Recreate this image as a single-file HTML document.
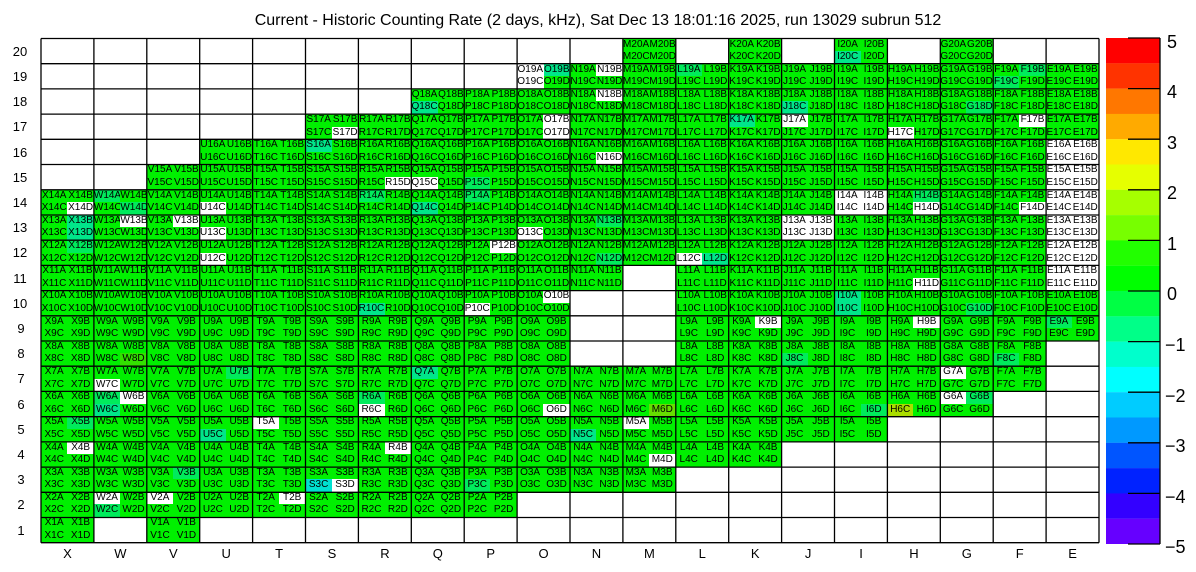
<!DOCTYPE html>
<html><head><meta charset="utf-8"><style>
body{margin:0;width:1196px;height:572px;background:#fff;position:relative;overflow:hidden;font-family:"Liberation Sans",Arial,sans-serif}
#g{position:absolute;left:41px;top:38.5px;width:1058px;height:504.2px}
.r{display:flex;height:12.605px}
.r i,.r b{flex:0 0 26.45px;width:26.45px;height:12.605px;font-style:normal;font-weight:normal;font-size:10px;line-height:12.8px;text-align:center;white-space:nowrap;color:#000;overflow:visible}
.r i{background:#00f000}
.r b{background:transparent}
.r i.w{background:#fff}.r i.t{background:#00e68a}.r i.l{background:#00eb5c}.r i.c{background:#00e0d0}.r i.y{background:#66dd00}.r i.z{background:#aadd00}.r i.v{background:#33e000}
s{display:block;flex:0 0 auto;height:12.605px}
.s1{width:52.9px}.s2{width:105.8px}.s3{width:158.7px}.s5{width:264.5px}.s7{width:370.3px}.s9{width:476.1px}.s11{width:581.9px}
svg{position:absolute;left:0;top:0}
</style></head><body>
<div id="g">
<div class="r"><s class="s11"></s><i>M20A</i><i>M20B</i><s class="s1"></s><i>K20A</i><i>K20B</i><s class="s1"></s><i>I20A</i><i>I20B</i><s class="s1"></s><i>G20A</i><i>G20B</i></div>
<div class="r"><s class="s11"></s><i>M20C</i><i>M20D</i><s class="s1"></s><i>K20C</i><i>K20D</i><s class="s1"></s><i class="t">I20C</i><i>I20D</i><s class="s1"></s><i>G20C</i><i>G20D</i></div>
<div class="r"><s class="s9"></s><i class="w">O19A</i><i class="t">O19B</i><i>N19A</i><i class="w">N19B</i><i>M19A</i><i>M19B</i><i class="l">L19A</i><i>L19B</i><i>K19A</i><i>K19B</i><i>J19A</i><i>J19B</i><i>I19A</i><i>I19B</i><i>H19A</i><i>H19B</i><i>G19A</i><i>G19B</i><i>F19A</i><i class="l">F19B</i><i>E19A</i><i>E19B</i></div>
<div class="r"><s class="s9"></s><i class="w">O19C</i><i>O19D</i><i>N19C</i><i>N19D</i><i>M19C</i><i>M19D</i><i>L19C</i><i>L19D</i><i>K19C</i><i>K19D</i><i>J19C</i><i>J19D</i><i>I19C</i><i>I19D</i><i>H19C</i><i>H19D</i><i>G19C</i><i>G19D</i><i class="l">F19C</i><i>F19D</i><i>E19C</i><i>E19D</i></div>
<div class="r"><s class="s7"></s><i>Q18A</i><i>Q18B</i><i>P18A</i><i>P18B</i><i>O18A</i><i>O18B</i><i>N18A</i><i class="w">N18B</i><i>M18A</i><i>M18B</i><i>L18A</i><i>L18B</i><i>K18A</i><i>K18B</i><i>J18A</i><i>J18B</i><i>I18A</i><i>I18B</i><i>H18A</i><i>H18B</i><i>G18A</i><i>G18B</i><i>F18A</i><i>F18B</i><i>E18A</i><i>E18B</i></div>
<div class="r"><s class="s7"></s><i class="t">Q18C</i><i>Q18D</i><i>P18C</i><i>P18D</i><i>O18C</i><i>O18D</i><i>N18C</i><i>N18D</i><i>M18C</i><i>M18D</i><i>L18C</i><i>L18D</i><i>K18C</i><i>K18D</i><i class="t">J18C</i><i>J18D</i><i>I18C</i><i>I18D</i><i>H18C</i><i>H18D</i><i>G18C</i><i class="l">G18D</i><i>F18C</i><i>F18D</i><i>E18C</i><i>E18D</i></div>
<div class="r"><s class="s5"></s><i>S17A</i><i>S17B</i><i>R17A</i><i>R17B</i><i>Q17A</i><i>Q17B</i><i>P17A</i><i>P17B</i><i>O17A</i><i class="w">O17B</i><i>N17A</i><i>N17B</i><i>M17A</i><i>M17B</i><i>L17A</i><i>L17B</i><i class="t">K17A</i><i>K17B</i><i class="w">J17A</i><i>J17B</i><i>I17A</i><i>I17B</i><i>H17A</i><i>H17B</i><i>G17A</i><i>G17B</i><i>F17A</i><i class="w">F17B</i><i>E17A</i><i>E17B</i></div>
<div class="r"><s class="s5"></s><i>S17C</i><i class="w">S17D</i><i>R17C</i><i>R17D</i><i>Q17C</i><i>Q17D</i><i>P17C</i><i>P17D</i><i>O17C</i><i class="w">O17D</i><i>N17C</i><i>N17D</i><i>M17C</i><i>M17D</i><i>L17C</i><i>L17D</i><i>K17C</i><i>K17D</i><i>J17C</i><i>J17D</i><i>I17C</i><i>I17D</i><i class="w">H17C</i><i>H17D</i><i>G17C</i><i>G17D</i><i>F17C</i><i>F17D</i><i>E17C</i><i>E17D</i></div>
<div class="r"><s class="s3"></s><i>U16A</i><i>U16B</i><i>T16A</i><i>T16B</i><i class="t">S16A</i><i>S16B</i><i>R16A</i><i>R16B</i><i>Q16A</i><i>Q16B</i><i>P16A</i><i>P16B</i><i>O16A</i><i>O16B</i><i>N16A</i><i>N16B</i><i>M16A</i><i>M16B</i><i>L16A</i><i>L16B</i><i>K16A</i><i>K16B</i><i>J16A</i><i>J16B</i><i>I16A</i><i>I16B</i><i>H16A</i><i>H16B</i><i>G16A</i><i>G16B</i><i>F16A</i><i>F16B</i><i class="w">E16A</i><i class="w">E16B</i></div>
<div class="r"><s class="s3"></s><i>U16C</i><i>U16D</i><i>T16C</i><i>T16D</i><i>S16C</i><i>S16D</i><i>R16C</i><i>R16D</i><i>Q16C</i><i>Q16D</i><i>P16C</i><i>P16D</i><i>O16C</i><i>O16D</i><i>N16C</i><i class="w">N16D</i><i>M16C</i><i>M16D</i><i>L16C</i><i>L16D</i><i>K16C</i><i>K16D</i><i>J16C</i><i>J16D</i><i>I16C</i><i>I16D</i><i>H16C</i><i>H16D</i><i>G16C</i><i>G16D</i><i>F16C</i><i>F16D</i><i class="w">E16C</i><i class="w">E16D</i></div>
<div class="r"><s class="s2"></s><i>V15A</i><i>V15B</i><i>U15A</i><i>U15B</i><i>T15A</i><i>T15B</i><i>S15A</i><i>S15B</i><i>R15A</i><i>R15B</i><i>Q15A</i><i>Q15B</i><i>P15A</i><i>P15B</i><i>O15A</i><i>O15B</i><i>N15A</i><i>N15B</i><i>M15A</i><i>M15B</i><i>L15A</i><i>L15B</i><i>K15A</i><i>K15B</i><i>J15A</i><i>J15B</i><i>I15A</i><i>I15B</i><i>H15A</i><i>H15B</i><i>G15A</i><i>G15B</i><i>F15A</i><i>F15B</i><i class="w">E15A</i><i class="w">E15B</i></div>
<div class="r"><s class="s2"></s><i>V15C</i><i>V15D</i><i>U15C</i><i>U15D</i><i>T15C</i><i>T15D</i><i>S15C</i><i>S15D</i><i>R15C</i><i class="w">R15D</i><i class="w">Q15C</i><i>Q15D</i><i class="l">P15C</i><i>P15D</i><i>O15C</i><i>O15D</i><i>N15C</i><i>N15D</i><i>M15C</i><i>M15D</i><i>L15C</i><i>L15D</i><i>K15C</i><i>K15D</i><i>J15C</i><i>J15D</i><i>I15C</i><i>I15D</i><i>H15C</i><i>H15D</i><i>G15C</i><i>G15D</i><i>F15C</i><i>F15D</i><i class="w">E15C</i><i class="w">E15D</i></div>
<div class="r"><i>X14A</i><i>X14B</i><i class="l">W14A</i><i>W14B</i><i>V14A</i><i>V14B</i><i>U14A</i><i>U14B</i><i>T14A</i><i>T14B</i><i>S14A</i><i>S14B</i><i class="l">R14A</i><i>R14B</i><i>Q14A</i><i>Q14B</i><i class="l">P14A</i><i>P14B</i><i>O14A</i><i>O14B</i><i>N14A</i><i>N14B</i><i>M14A</i><i>M14B</i><i>L14A</i><i>L14B</i><i>K14A</i><i>K14B</i><i>J14A</i><i>J14B</i><i class="w">I14A</i><i class="w">I14B</i><i>H14A</i><i class="l">H14B</i><i>G14A</i><i>G14B</i><i>F14A</i><i>F14B</i><i class="w">E14A</i><i class="w">E14B</i></div>
<div class="r"><i>X14C</i><i class="w">X14D</i><i>W14C</i><i class="l">W14D</i><i>V14C</i><i>V14D</i><i class="w">U14C</i><i>U14D</i><i>T14C</i><i>T14D</i><i>S14C</i><i>S14D</i><i>R14C</i><i>R14D</i><i class="t">Q14C</i><i>Q14D</i><i>P14C</i><i>P14D</i><i>O14C</i><i>O14D</i><i>N14C</i><i>N14D</i><i>M14C</i><i>M14D</i><i>L14C</i><i>L14D</i><i>K14C</i><i>K14D</i><i>J14C</i><i>J14D</i><i class="w">I14C</i><i class="w">I14D</i><i>H14C</i><i class="w">H14D</i><i>G14C</i><i>G14D</i><i>F14C</i><i class="w">F14D</i><i class="w">E14C</i><i class="w">E14D</i></div>
<div class="r"><i>X13A</i><i class="t">X13B</i><i>W13A</i><i class="w">W13B</i><i>V13A</i><i class="w">V13B</i><i>U13A</i><i>U13B</i><i>T13A</i><i>T13B</i><i>S13A</i><i>S13B</i><i>R13A</i><i>R13B</i><i>Q13A</i><i>Q13B</i><i>P13A</i><i>P13B</i><i>O13A</i><i>O13B</i><i>N13A</i><i class="l">N13B</i><i>M13A</i><i>M13B</i><i>L13A</i><i>L13B</i><i>K13A</i><i>K13B</i><i class="w">J13A</i><i class="w">J13B</i><i>I13A</i><i>I13B</i><i>H13A</i><i>H13B</i><i>G13A</i><i>G13B</i><i>F13A</i><i>F13B</i><i class="w">E13A</i><i class="w">E13B</i></div>
<div class="r"><i>X13C</i><i class="t">X13D</i><i>W13C</i><i>W13D</i><i>V13C</i><i>V13D</i><i class="w">U13C</i><i>U13D</i><i>T13C</i><i>T13D</i><i>S13C</i><i>S13D</i><i>R13C</i><i>R13D</i><i>Q13C</i><i>Q13D</i><i>P13C</i><i>P13D</i><i class="w">O13C</i><i>O13D</i><i>N13C</i><i>N13D</i><i>M13C</i><i>M13D</i><i>L13C</i><i>L13D</i><i>K13C</i><i>K13D</i><i class="w">J13C</i><i class="w">J13D</i><i>I13C</i><i>I13D</i><i>H13C</i><i>H13D</i><i>G13C</i><i>G13D</i><i>F13C</i><i>F13D</i><i class="w">E13C</i><i class="w">E13D</i></div>
<div class="r"><i>X12A</i><i class="l">X12B</i><i>W12A</i><i>W12B</i><i>V12A</i><i>V12B</i><i>U12A</i><i>U12B</i><i>T12A</i><i>T12B</i><i>S12A</i><i>S12B</i><i>R12A</i><i>R12B</i><i>Q12A</i><i>Q12B</i><i>P12A</i><i class="w">P12B</i><i>O12A</i><i>O12B</i><i>N12A</i><i>N12B</i><i>M12A</i><i>M12B</i><i>L12A</i><i>L12B</i><i>K12A</i><i>K12B</i><i>J12A</i><i>J12B</i><i>I12A</i><i>I12B</i><i>H12A</i><i>H12B</i><i>G12A</i><i>G12B</i><i>F12A</i><i>F12B</i><i class="w">E12A</i><i class="w">E12B</i></div>
<div class="r"><i>X12C</i><i>X12D</i><i>W12C</i><i>W12D</i><i>V12C</i><i>V12D</i><i class="w">U12C</i><i>U12D</i><i>T12C</i><i>T12D</i><i>S12C</i><i>S12D</i><i>R12C</i><i>R12D</i><i>Q12C</i><i>Q12D</i><i>P12C</i><i>P12D</i><i>O12C</i><i>O12D</i><i>N12C</i><i class="l">N12D</i><i>M12C</i><i>M12D</i><i class="w">L12C</i><i class="t">L12D</i><i>K12C</i><i>K12D</i><i>J12C</i><i>J12D</i><i>I12C</i><i>I12D</i><i>H12C</i><i>H12D</i><i>G12C</i><i>G12D</i><i>F12C</i><i>F12D</i><i class="w">E12C</i><i class="w">E12D</i></div>
<div class="r"><i>X11A</i><i>X11B</i><i>W11A</i><i>W11B</i><i>V11A</i><i>V11B</i><i>U11A</i><i>U11B</i><i>T11A</i><i>T11B</i><i>S11A</i><i>S11B</i><i>R11A</i><i>R11B</i><i>Q11A</i><i>Q11B</i><i>P11A</i><i>P11B</i><i>O11A</i><i>O11B</i><i>N11A</i><i>N11B</i><s class="s1"></s><i>L11A</i><i>L11B</i><i>K11A</i><i>K11B</i><i>J11A</i><i>J11B</i><i>I11A</i><i>I11B</i><i>H11A</i><i>H11B</i><i>G11A</i><i>G11B</i><i>F11A</i><i>F11B</i><i class="w">E11A</i><i class="w">E11B</i></div>
<div class="r"><i>X11C</i><i>X11D</i><i>W11C</i><i>W11D</i><i>V11C</i><i>V11D</i><i>U11C</i><i>U11D</i><i>T11C</i><i>T11D</i><i>S11C</i><i>S11D</i><i>R11C</i><i>R11D</i><i>Q11C</i><i>Q11D</i><i>P11C</i><i>P11D</i><i>O11C</i><i>O11D</i><i>N11C</i><i>N11D</i><s class="s1"></s><i>L11C</i><i>L11D</i><i>K11C</i><i>K11D</i><i>J11C</i><i>J11D</i><i>I11C</i><i>I11D</i><i>H11C</i><i class="w">H11D</i><i>G11C</i><i>G11D</i><i>F11C</i><i>F11D</i><i class="w">E11C</i><i class="w">E11D</i></div>
<div class="r"><i>X10A</i><i>X10B</i><i>W10A</i><i>W10B</i><i>V10A</i><i>V10B</i><i>U10A</i><i>U10B</i><i>T10A</i><i>T10B</i><i>S10A</i><i>S10B</i><i>R10A</i><i>R10B</i><i>Q10A</i><i>Q10B</i><i>P10A</i><i>P10B</i><i>O10A</i><i class="w">O10B</i><s class="s2"></s><i>L10A</i><i>L10B</i><i>K10A</i><i>K10B</i><i>J10A</i><i>J10B</i><i class="t">I10A</i><i>I10B</i><i>H10A</i><i>H10B</i><i>G10A</i><i>G10B</i><i>F10A</i><i>F10B</i><i>E10A</i><i>E10B</i></div>
<div class="r"><i>X10C</i><i>X10D</i><i>W10C</i><i>W10D</i><i>V10C</i><i>V10D</i><i>U10C</i><i>U10D</i><i>T10C</i><i>T10D</i><i>S10C</i><i>S10D</i><i class="t">R10C</i><i>R10D</i><i>Q10C</i><i>Q10D</i><i class="w">P10C</i><i>P10D</i><i>O10C</i><i>O10D</i><s class="s2"></s><i>L10C</i><i>L10D</i><i>K10C</i><i>K10D</i><i>J10C</i><i>J10D</i><i class="t">I10C</i><i>I10D</i><i>H10C</i><i>H10D</i><i>G10C</i><i class="l">G10D</i><i>F10C</i><i>F10D</i><i>E10C</i><i>E10D</i></div>
<div class="r"><i>X9A</i><i>X9B</i><i>W9A</i><i>W9B</i><i>V9A</i><i>V9B</i><i>U9A</i><i>U9B</i><i>T9A</i><i>T9B</i><i>S9A</i><i>S9B</i><i>R9A</i><i>R9B</i><i>Q9A</i><i>Q9B</i><i>P9A</i><i>P9B</i><i>O9A</i><i>O9B</i><s class="s2"></s><i>L9A</i><i>L9B</i><i>K9A</i><i class="w">K9B</i><i>J9A</i><i>J9B</i><i>I9A</i><i>I9B</i><i>H9A</i><i class="w">H9B</i><i>G9A</i><i>G9B</i><i>F9A</i><i>F9B</i><i class="l">E9A</i><i>E9B</i></div>
<div class="r"><i>X9C</i><i>X9D</i><i>W9C</i><i>W9D</i><i>V9C</i><i>V9D</i><i>U9C</i><i>U9D</i><i>T9C</i><i>T9D</i><i>S9C</i><i>S9D</i><i>R9C</i><i>R9D</i><i>Q9C</i><i>Q9D</i><i>P9C</i><i>P9D</i><i>O9C</i><i>O9D</i><s class="s2"></s><i>L9C</i><i>L9D</i><i>K9C</i><i>K9D</i><i>J9C</i><i>J9D</i><i>I9C</i><i>I9D</i><i>H9C</i><i>H9D</i><i>G9C</i><i>G9D</i><i>F9C</i><i>F9D</i><i>E9C</i><i>E9D</i></div>
<div class="r"><i>X8A</i><i>X8B</i><i>W8A</i><i>W8B</i><i>V8A</i><i>V8B</i><i>U8A</i><i>U8B</i><i>T8A</i><i>T8B</i><i>S8A</i><i>S8B</i><i>R8A</i><i>R8B</i><i>Q8A</i><i>Q8B</i><i>P8A</i><i>P8B</i><i>O8A</i><i>O8B</i><s class="s2"></s><i>L8A</i><i>L8B</i><i>K8A</i><i>K8B</i><i>J8A</i><i>J8B</i><i>I8A</i><i>I8B</i><i>H8A</i><i>H8B</i><i>G8A</i><i>G8B</i><i>F8A</i><i>F8B</i></div>
<div class="r"><i>X8C</i><i>X8D</i><i>W8C</i><i class="v">W8D</i><i>V8C</i><i>V8D</i><i>U8C</i><i>U8D</i><i>T8C</i><i>T8D</i><i>S8C</i><i>S8D</i><i>R8C</i><i>R8D</i><i>Q8C</i><i>Q8D</i><i>P8C</i><i>P8D</i><i>O8C</i><i>O8D</i><s class="s2"></s><i>L8C</i><i>L8D</i><i>K8C</i><i>K8D</i><i class="l">J8C</i><i>J8D</i><i>I8C</i><i>I8D</i><i>H8C</i><i>H8D</i><i>G8C</i><i>G8D</i><i class="l">F8C</i><i>F8D</i></div>
<div class="r"><i>X7A</i><i>X7B</i><i>W7A</i><i>W7B</i><i>V7A</i><i>V7B</i><i>U7A</i><i class="l">U7B</i><i>T7A</i><i>T7B</i><i>S7A</i><i>S7B</i><i>R7A</i><i>R7B</i><i class="t">Q7A</i><i>Q7B</i><i>P7A</i><i>P7B</i><i>O7A</i><i>O7B</i><i>N7A</i><i>N7B</i><i>M7A</i><i>M7B</i><i>L7A</i><i>L7B</i><i>K7A</i><i>K7B</i><i>J7A</i><i>J7B</i><i>I7A</i><i>I7B</i><i>H7A</i><i>H7B</i><i class="w">G7A</i><i>G7B</i><i>F7A</i><i>F7B</i></div>
<div class="r"><i>X7C</i><i>X7D</i><i class="w">W7C</i><i>W7D</i><i>V7C</i><i>V7D</i><i>U7C</i><i>U7D</i><i>T7C</i><i>T7D</i><i>S7C</i><i>S7D</i><i>R7C</i><i>R7D</i><i>Q7C</i><i>Q7D</i><i>P7C</i><i>P7D</i><i>O7C</i><i>O7D</i><i>N7C</i><i>N7D</i><i>M7C</i><i>M7D</i><i>L7C</i><i>L7D</i><i>K7C</i><i>K7D</i><i>J7C</i><i>J7D</i><i>I7C</i><i>I7D</i><i>H7C</i><i>H7D</i><i>G7C</i><i>G7D</i><i>F7C</i><i>F7D</i></div>
<div class="r"><i>X6A</i><i>X6B</i><i class="l">W6A</i><i class="w">W6B</i><i>V6A</i><i>V6B</i><i>U6A</i><i>U6B</i><i>T6A</i><i>T6B</i><i>S6A</i><i>S6B</i><i class="l">R6A</i><i>R6B</i><i>Q6A</i><i>Q6B</i><i>P6A</i><i>P6B</i><i>O6A</i><i>O6B</i><i>N6A</i><i>N6B</i><i>M6A</i><i>M6B</i><i>L6A</i><i>L6B</i><i>K6A</i><i>K6B</i><i>J6A</i><i>J6B</i><i>I6A</i><i>I6B</i><i>H6A</i><i>H6B</i><i class="w">G6A</i><i class="l">G6B</i></div>
<div class="r"><i>X6C</i><i>X6D</i><i class="t">W6C</i><i>W6D</i><i>V6C</i><i>V6D</i><i>U6C</i><i>U6D</i><i>T6C</i><i>T6D</i><i>S6C</i><i>S6D</i><i class="w">R6C</i><i>R6D</i><i>Q6C</i><i>Q6D</i><i>P6C</i><i>P6D</i><i>O6C</i><i class="w">O6D</i><i>N6C</i><i>N6D</i><i>M6C</i><i class="y">M6D</i><i>L6C</i><i>L6D</i><i>K6C</i><i>K6D</i><i>J6C</i><i>J6D</i><i>I6C</i><i class="l">I6D</i><i class="z">H6C</i><i>H6D</i><i>G6C</i><i>G6D</i></div>
<div class="r"><i>X5A</i><i class="l">X5B</i><i>W5A</i><i>W5B</i><i>V5A</i><i>V5B</i><i>U5A</i><i>U5B</i><i class="w">T5A</i><i>T5B</i><i>S5A</i><i>S5B</i><i>R5A</i><i>R5B</i><i>Q5A</i><i>Q5B</i><i>P5A</i><i>P5B</i><i>O5A</i><i>O5B</i><i>N5A</i><i>N5B</i><i class="w">M5A</i><i>M5B</i><i>L5A</i><i>L5B</i><i>K5A</i><i>K5B</i><i>J5A</i><i>J5B</i><i>I5A</i><i>I5B</i></div>
<div class="r"><i>X5C</i><i>X5D</i><i>W5C</i><i>W5D</i><i>V5C</i><i>V5D</i><i class="t">U5C</i><i>U5D</i><i>T5C</i><i>T5D</i><i>S5C</i><i>S5D</i><i>R5C</i><i>R5D</i><i>Q5C</i><i>Q5D</i><i>P5C</i><i>P5D</i><i>O5C</i><i>O5D</i><i class="t">N5C</i><i>N5D</i><i>M5C</i><i>M5D</i><i>L5C</i><i>L5D</i><i>K5C</i><i>K5D</i><i>J5C</i><i>J5D</i><i>I5C</i><i>I5D</i></div>
<div class="r"><i>X4A</i><i class="w">X4B</i><i>W4A</i><i>W4B</i><i>V4A</i><i>V4B</i><i>U4A</i><i>U4B</i><i>T4A</i><i>T4B</i><i>S4A</i><i>S4B</i><i>R4A</i><i class="w">R4B</i><i>Q4A</i><i>Q4B</i><i>P4A</i><i>P4B</i><i>O4A</i><i>O4B</i><i>N4A</i><i>N4B</i><i>M4A</i><i>M4B</i><i>L4A</i><i>L4B</i><i>K4A</i><i>K4B</i></div>
<div class="r"><i>X4C</i><i>X4D</i><i>W4C</i><i>W4D</i><i>V4C</i><i>V4D</i><i>U4C</i><i>U4D</i><i>T4C</i><i>T4D</i><i>S4C</i><i>S4D</i><i>R4C</i><i>R4D</i><i>Q4C</i><i>Q4D</i><i>P4C</i><i>P4D</i><i>O4C</i><i>O4D</i><i>N4C</i><i>N4D</i><i>M4C</i><i class="w">M4D</i><i>L4C</i><i>L4D</i><i>K4C</i><i>K4D</i></div>
<div class="r"><i>X3A</i><i>X3B</i><i>W3A</i><i>W3B</i><i>V3A</i><i class="l">V3B</i><i>U3A</i><i>U3B</i><i>T3A</i><i>T3B</i><i>S3A</i><i>S3B</i><i>R3A</i><i>R3B</i><i>Q3A</i><i>Q3B</i><i>P3A</i><i>P3B</i><i>O3A</i><i>O3B</i><i>N3A</i><i>N3B</i><i>M3A</i><i>M3B</i></div>
<div class="r"><i>X3C</i><i>X3D</i><i>W3C</i><i>W3D</i><i>V3C</i><i>V3D</i><i>U3C</i><i>U3D</i><i>T3C</i><i>T3D</i><i class="c">S3C</i><i class="w">S3D</i><i>R3C</i><i>R3D</i><i>Q3C</i><i>Q3D</i><i class="l">P3C</i><i>P3D</i><i>O3C</i><i>O3D</i><i>N3C</i><i>N3D</i><i>M3C</i><i>M3D</i></div>
<div class="r"><i>X2A</i><i>X2B</i><i class="w">W2A</i><i>W2B</i><i class="w">V2A</i><i>V2B</i><i>U2A</i><i>U2B</i><i>T2A</i><i class="w">T2B</i><i>S2A</i><i>S2B</i><i>R2A</i><i>R2B</i><i>Q2A</i><i>Q2B</i><i>P2A</i><i>P2B</i></div>
<div class="r"><i>X2C</i><i>X2D</i><i class="l">W2C</i><i>W2D</i><i>V2C</i><i>V2D</i><i>U2C</i><i>U2D</i><i>T2C</i><i>T2D</i><i>S2C</i><i>S2D</i><i>R2C</i><i>R2D</i><i>Q2C</i><i>Q2D</i><i>P2C</i><i>P2D</i></div>
<div class="r"><i>X1A</i><i>X1B</i><s class="s1"></s><i>V1A</i><i>V1B</i></div>
<div class="r"><i>X1C</i><i>X1D</i><s class="s1"></s><i>V1C</i><i>V1D</i></div>
</div>
<svg width="1196" height="572" xmlns="http://www.w3.org/2000/svg" font-family="Liberation Sans, Arial, sans-serif">
<g stroke="#000" stroke-width="1.3">
<path d="M41,38.5V542.7M93.9,38.5V542.7M146.8,38.5V542.7M199.7,38.5V542.7M252.6,38.5V542.7M305.5,38.5V542.7M358.4,38.5V542.7M411.3,38.5V542.7M464.2,38.5V542.7M517.1,38.5V542.7M570,38.5V542.7M622.9,38.5V542.7M675.8,38.5V542.7M728.7,38.5V542.7M781.6,38.5V542.7M834.5,38.5V542.7M887.4,38.5V542.7M940.3,38.5V542.7M993.2,38.5V542.7M1046.1,38.5V542.7M1099,38.5V542.7"/>
<path d="M41,38.5H1099M41,63.7H1099M41,88.9H1099M41,114.1H1099M41,139.3H1099M41,164.5H1099M41,189.8H1099M41,215H1099M41,240.2H1099M41,265.4H1099M41,290.6H1099M41,315.8H1099M41,341H1099M41,366.2H1099M41,391.4H1099M41,416.7H1099M41,441.9H1099M41,467.1H1099M41,492.3H1099M41,517.5H1099M41,542.7H1099"/>
</g>
<text x="598" y="25" font-size="16" text-anchor="middle">Current - Historic Counting Rate (2 days, kHz), Sat Dec 13 18:01:16 2025, run 13029 subrun 512</text>
<g font-size="13" text-anchor="middle">
<text x="20" y="56">20</text><text x="20" y="81">19</text><text x="20" y="106">18</text><text x="20" y="131">17</text><text x="20" y="157">16</text><text x="20" y="182">15</text><text x="20" y="207">14</text><text x="20" y="232">13</text><text x="20" y="257">12</text><text x="20" y="283">11</text><text x="20" y="308">10</text><text x="21" y="333">9</text><text x="21" y="358">8</text><text x="21" y="383">7</text><text x="21" y="409">6</text><text x="21" y="434">5</text><text x="21" y="459">4</text><text x="21" y="484">3</text><text x="21" y="509">2</text><text x="21" y="535">1</text>
<text x="67.5" y="558">X</text><text x="120.4" y="558">W</text><text x="173.3" y="558">V</text><text x="226.2" y="558">U</text><text x="279.1" y="558">T</text><text x="332" y="558">S</text><text x="384.9" y="558">R</text><text x="437.8" y="558">Q</text><text x="490.7" y="558">P</text><text x="543.6" y="558">O</text><text x="596.5" y="558">N</text><text x="649.4" y="558">M</text><text x="702.3" y="558">L</text><text x="755.2" y="558">K</text><text x="808.1" y="558">J</text><text x="861" y="558">I</text><text x="913.9" y="558">H</text><text x="966.8" y="558">G</text><text x="1019.7" y="558">F</text><text x="1072.6" y="558">E</text>
</g>
<g>
<rect x="1106" y="38" width="54" height="25.4" fill="#ff0000"/><rect x="1106" y="63.3" width="54" height="25.4" fill="#ff3300"/><rect x="1106" y="88.6" width="54" height="25.4" fill="#ff7700"/><rect x="1106" y="113.9" width="54" height="25.4" fill="#ffaa00"/><rect x="1106" y="139.2" width="54" height="25.4" fill="#ffe800"/><rect x="1106" y="164.5" width="54" height="25.4" fill="#e6ff00"/><rect x="1106" y="189.8" width="54" height="25.4" fill="#a6ff00"/><rect x="1106" y="215.1" width="54" height="25.4" fill="#77ff00"/><rect x="1106" y="240.4" width="54" height="25.4" fill="#22ff00"/><rect x="1106" y="265.7" width="54" height="25.4" fill="#00ff00"/><rect x="1106" y="291" width="54" height="25.4" fill="#00ff44"/><rect x="1106" y="316.3" width="54" height="25.4" fill="#00ff88"/><rect x="1106" y="341.6" width="54" height="25.4" fill="#00ffcc"/><rect x="1106" y="366.9" width="54" height="25.4" fill="#00ffff"/><rect x="1106" y="392.2" width="54" height="25.4" fill="#00ccff"/><rect x="1106" y="417.5" width="54" height="25.4" fill="#0099ff"/><rect x="1106" y="442.8" width="54" height="25.4" fill="#0055ff"/><rect x="1106" y="468.1" width="54" height="25.4" fill="#0022ff"/><rect x="1106" y="493.4" width="54" height="25.4" fill="#3300ff"/><rect x="1106" y="518.7" width="54" height="25.3" fill="#6600ff"/>
</g>
<g stroke="#000" stroke-width="1.3"><path d="M1160,38V544M1128,38H1160M1128,88.6H1160M1128,139.2H1160M1128,189.8H1160M1128,240.4H1160M1128,291H1160M1128,341.6H1160M1128,392.2H1160M1128,442.8H1160M1128,493.4H1160M1128,544H1160"/></g>
<g font-size="18">
<text x="1167" y="48">5</text><text x="1167" y="98">4</text><text x="1167" y="149">3</text><text x="1167" y="199">2</text><text x="1167" y="250">1</text><text x="1167" y="300">0</text><text x="1165" y="351">−1</text><text x="1165" y="402">−2</text><text x="1165" y="452">−3</text><text x="1165" y="503">−4</text><text x="1165" y="553">−5</text>
</g>
</svg>
</body></html>
